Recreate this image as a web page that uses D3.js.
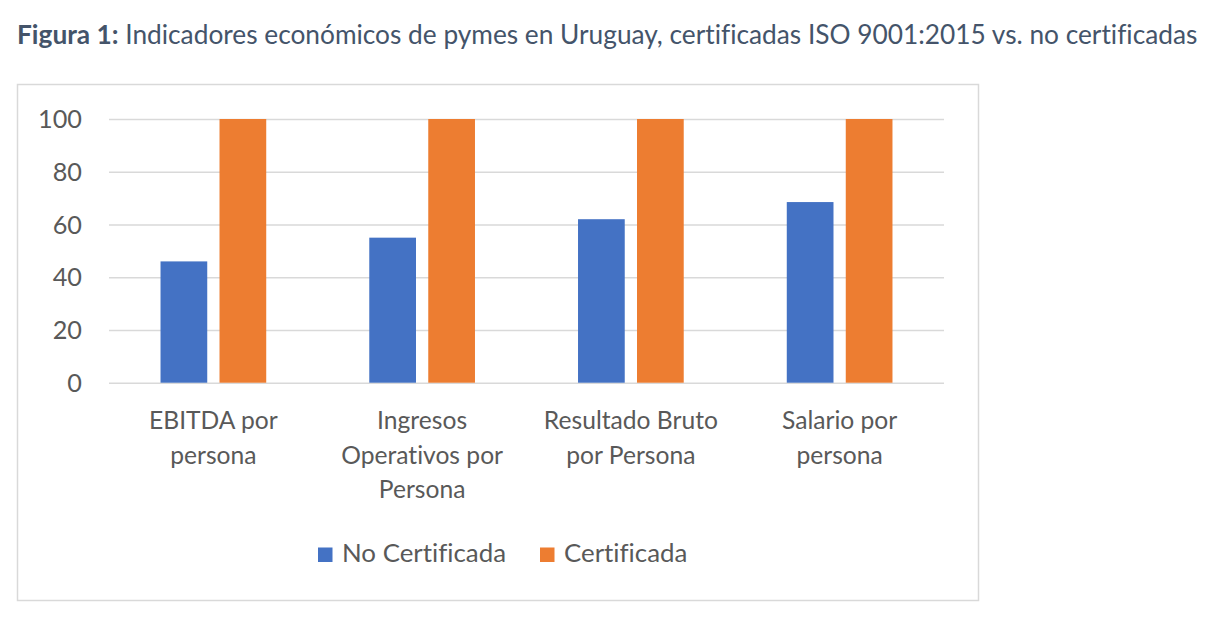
<!DOCTYPE html>
<html>
<head>
<meta charset="utf-8">
<script src="https://cdn.jsdelivr.net/npm/d3@7"></script>
<style>
  html, body { margin: 0; padding: 0; background: #ffffff; }
  svg { display: block; }
  text { font-variant-ligatures: none; font-feature-settings: "liga" 0; }
</style>
</head>
<body>
<svg id="chart" width="1230" height="622"></svg>
<script>
// ---- Data ----
const categories = [
  ["EBITDA por", "persona"],
  ["Ingresos", "Operativos por", "Persona"],
  ["Resultado Bruto", "por Persona"],
  ["Salario por", "persona"]
];
const seriesNames = ["No Certificada", "Certificada"];
const noCertificada = [46, 55, 62, 68.5];
const certificada = [100, 100, 100, 100];
const yTicks = [0, 20, 40, 60, 80, 100];
const titleBold = "Figura 1:";
const titleRest = " Indicadores económicos de pymes en Uruguay, certificadas ISO 9001:2015 vs. no certificadas";

// ---- Styles ----
const colors = ["#4472C4", "#ED7D31"];
const FONT = "Lato, 'Open Sans', sans-serif";
const textColor = "#595959";

const svg = d3.select("#chart");

// helper: size a font so the given text matches a target width
function fitSize(str, target, weight) {
  const t = svg.append("text").attr("font-family", FONT).attr("font-size", 100)
    .attr("font-weight", weight || "normal").text(str);
  const w = t.node().getComputedTextLength();
  t.remove();
  return 100 * target / w;
}

// ---- Frame ----
svg.append("rect")
  .attr("x", 17.5).attr("y", 84.5).attr("width", 961).attr("height", 516)
  .attr("fill", "#ffffff").attr("stroke", "#d9d9d9").attr("stroke-width", 1.5);

// ---- Title ----
(function () {
  const t = svg.append("text").attr("font-family", FONT).attr("font-size", 100);
  t.append("tspan").attr("font-weight", "bold").text(titleBold);
  t.append("tspan").text(titleRest);
  const w = t.node().getComputedTextLength();
  t.remove();
  const size = 100 * 1181 / w;
  const title = svg.append("text")
    .attr("x", 17).attr("y", 43.5)
    .attr("font-family", FONT).attr("font-size", size)
    .attr("fill", "#44546A");
  title.append("tspan").attr("font-weight", "bold").text(titleBold);
  title.append("tspan").text(titleRest);
})();

// ---- Scales ----
const plot = { left: 109, right: 944, top: 119, bottom: 382.7 };
const x0 = d3.scaleBand()
  .domain(d3.range(categories.length))
  .range([plot.left, plot.right])
  .paddingInner(0).paddingOuter(0);
const groupWidth = 105.7;
const x1 = d3.scaleBand()
  .domain(seriesNames)
  .range([-groupWidth / 2, groupWidth / 2])
  .paddingInner(0.208).paddingOuter(0);
const y = d3.scaleLinear().domain([0, 100]).range([plot.bottom, plot.top]);

// ---- Gridlines ----
const yAxis = d3.axisLeft(y).tickValues(yTicks)
  .tickSize(-(plot.right - plot.left)).tickPadding(0).tickFormat("");
const gGrid = svg.append("g").attr("transform", `translate(${plot.left},0)`).call(yAxis);
gGrid.select(".domain").remove();
gGrid.selectAll(".tick line").attr("stroke", "#d9d9d9").attr("stroke-width", 1.5);

// ---- Y tick labels ----
const tickSize = fitSize("100", 44);
svg.append("g").selectAll("text").data(yTicks).join("text")
  .attr("x", 82).attr("y", d => y(d) + tickSize * 0.36)
  .attr("text-anchor", "end")
  .attr("font-family", FONT).attr("font-size", tickSize)
  .attr("fill", textColor)
  .text(d => d);

// ---- Bars ----
const data = categories.map((c, i) => ({ i, values: [noCertificada[i], certificada[i]] }));
const groups = svg.append("g").selectAll("g").data(data).join("g")
  .attr("transform", d => `translate(${x0(d.i) + x0.bandwidth() / 2},0)`);
groups.selectAll("rect")
  .data(d => d.values.map((v, k) => ({ key: seriesNames[k], v, k })))
  .join("rect")
  .attr("x", d => x1(d.key))
  .attr("width", x1.bandwidth())
  .attr("y", d => y(d.v))
  .attr("height", d => y(0) - y(d.v))
  .attr("fill", d => colors[d.k]);

// ---- Category labels ----
const catSize = fitSize("Operativos por", 162);
const catG = svg.append("g");
categories.forEach((lines, i) => {
  const cx = x0(i) + x0.bandwidth() / 2;
  const t = catG.append("text")
    .attr("text-anchor", "middle")
    .attr("font-family", FONT).attr("font-size", catSize)
    .attr("fill", textColor);
  lines.forEach((ln, j) => {
    t.append("tspan").attr("x", cx).attr("y", 429.3 + j * 34.5).text(ln);
  });
});

// ---- Legend ----
const legSize = fitSize("No Certificada", 164);
const legendPos = [318, 540];
const leg = svg.append("g");
seriesNames.forEach((name, k) => {
  leg.append("rect").attr("x", legendPos[k]).attr("y", 547.5)
    .attr("width", 14.5).attr("height", 14.5).attr("fill", colors[k]);
  leg.append("text").attr("x", legendPos[k] + 24).attr("y", 561.5)
    .attr("font-family", FONT).attr("font-size", legSize)
    .attr("fill", textColor).text(name);
});
</script>
</body>
</html>
